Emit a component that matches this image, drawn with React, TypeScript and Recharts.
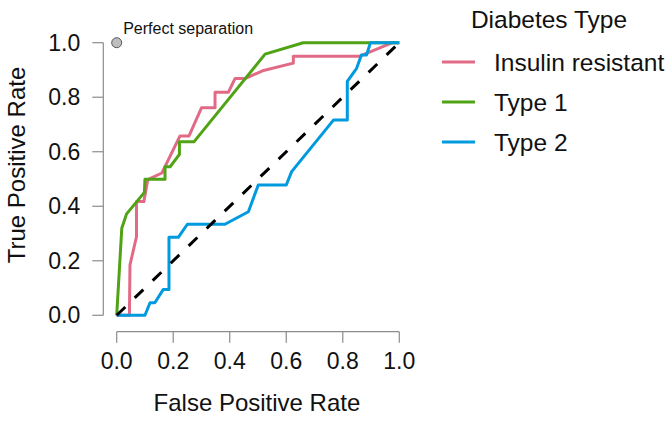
import React from 'react';
import { LineChart, Line, XAxis, YAxis, ReferenceLine, ReferenceDot, Legend } from 'recharts';

const FONT = '"Liberation Sans", Arial, Helvetica, sans-serif';
const AXIS_GREY = '#8c8c8c';

const xTicks = [0, 0.2, 0.4, 0.6, 0.8, 1.0];
const yTicks = [0, 0.2, 0.4, 0.6, 0.8, 1.0];

const seriesNames = ['Insulin resistant', 'Type 1', 'Type 2'];
const seriesColors = ['#E16A86', '#50A315', '#009ADE'];

// ROC points (false positive rate, true positive rate)
const insulinFpr = [0, 0.045, 0.047, 0.070, 0.070, 0.096, 0.110, 0.160, 0.224, 0.256, 0.300, 0.348, 0.348, 0.395, 0.419, 0.456, 0.516, 0.625, 0.625, 0.858, 0.976, 1.0];
const insulinTpr = [0, 0, 0.185, 0.288, 0.417, 0.417, 0.498, 0.522, 0.658, 0.658, 0.761, 0.761, 0.818, 0.818, 0.869, 0.869, 0.897, 0.925, 0.950, 0.950, 1.0, 1.0];

const type1Fpr = [0, 0.018, 0.035, 0.071, 0.098, 0.100, 0.171, 0.171, 0.189, 0.222, 0.222, 0.274, 0.525, 0.660, 1.0];
const type1Tpr = [0, 0.319, 0.372, 0.417, 0.451, 0.499, 0.499, 0.545, 0.545, 0.590, 0.637, 0.637, 0.958, 1.0, 1.0];

const type2Fpr = [0, 0.100, 0.118, 0.135, 0.165, 0.185, 0.185, 0.218, 0.250, 0.383, 0.466, 0.501, 0.600, 0.619, 0.767, 0.816, 0.816, 0.849, 0.866, 0.884, 0.898, 1.0];
const type2Tpr = [0, 0, 0.046, 0.046, 0.095, 0.095, 0.286, 0.286, 0.334, 0.334, 0.380, 0.478, 0.478, 0.527, 0.716, 0.716, 0.858, 0.906, 0.955, 0.955, 1.0, 1.0];

const chanceFpr = [0, 1];
const chanceTpr = [0, 1];

const toPoints = (fpr: number[], tpr: number[]) => fpr.map((x, i) => ({ x, y: tpr[i] }));

const seriesData = [
  toPoints(insulinFpr, insulinTpr),
  toPoints(type1Fpr, type1Tpr),
  toPoints(type2Fpr, type2Tpr),
];
const chanceData = toPoints(chanceFpr, chanceTpr);

const X_DOMAIN: [number, number] = [-0.0474, 1.04];
const Y_DOMAIN: [number, number] = [-0.0602, 1.04];

const LegendBox = ({ payload }: any) => {
  const items = (payload || []).filter((p: any) => seriesNames.includes(p.value));
  return (
    <svg width={239} height={160} style={{ overflow: 'visible', fontFamily: FONT }}>
      <text x={119} y={28} textAnchor="middle" fontSize={24.5} fill="#111">Diabetes Type</text>
      {items.map((p: any, i: number) => (
        <g key={p.value}>
          <line x1={12} x2={45} y1={62 + 40 * i} y2={62 + 40 * i} stroke={p.color} strokeWidth={3} />
          <text x={64} y={71 + 40 * i} fontSize={24.5} fill="#111">{p.value}</text>
        </g>
      ))}
    </svg>
  );
};

const PerfectLabel = (props: any) => {
  const vb = props.viewBox || {};
  const right = (vb.x ?? 112) + (vb.width ?? 10);
  const top = vb.y ?? 38;
  return (
    <text x={right + 1.5} y={top - 4} fontSize={16} fill="#111" fontFamily={FONT}>
      Perfect separation
    </text>
  );
};

const YTitle = () => (
  <text x={25} y={165} transform="rotate(-90 25 165)" textAnchor="middle" fontSize={24} fill="#111" fontFamily={FONT}>
    True Positive Rate
  </text>
);

export default function App() {
  return (
    <div style={{ position: 'absolute', left: 0, top: 0, width: 669, height: 424, background: '#fff' }}>
      <LineChart width={669} height={424} margin={{ top: 31.8, right: 258.4, bottom: 0, left: 0 }}>
        <XAxis
          type="number"
          dataKey="x"
          domain={X_DOMAIN}
          ticks={xTicks}
          allowDataOverflow
          tickFormatter={(v: number) => v.toFixed(1)}
          axisLine={false}
          tickLine={{ stroke: AXIS_GREY, strokeWidth: 1.2 }}
          tickSize={11}
          tickMargin={10}
          tick={{ fill: '#111', fontSize: 23, fontFamily: FONT }}
          height={92.3}
          label={{ value: 'False Positive Rate', position: 'insideBottom', offset: 13, fill: '#111', fontSize: 24, fontFamily: FONT }}
        />
        <YAxis
          type="number"
          dataKey="y"
          domain={Y_DOMAIN}
          ticks={yTicks}
          allowDataOverflow
          tickFormatter={(v: number) => v.toFixed(1)}
          axisLine={false}
          tickLine={{ stroke: AXIS_GREY, strokeWidth: 1.2 }}
          tickSize={11}
          tickMargin={12}
          tick={{ fill: '#111', fontSize: 23, fontFamily: FONT }}
          width={103.3}
          label={YTitle}
        />
        <ReferenceLine
          segment={[{ x: 0, y: Y_DOMAIN[0] }, { x: 1, y: Y_DOMAIN[0] }]}
          stroke={AXIS_GREY}
          strokeWidth={1.2}
          ifOverflow="visible"
        />
        <ReferenceLine
          segment={[{ x: X_DOMAIN[0], y: 0 }, { x: X_DOMAIN[0], y: 1 }]}
          stroke={AXIS_GREY}
          strokeWidth={1.2}
          ifOverflow="visible"
        />
        {seriesData.map((d, i) => (
          <Line
            key={seriesNames[i]}
            data={d}
            dataKey="y"
            name={seriesNames[i]}
            type="linear"
            stroke={seriesColors[i]}
            strokeWidth={3}
            strokeLinejoin="round"
            dot={false}
            activeDot={false}
            isAnimationActive={false}
          />
        ))}
        <Line
          data={chanceData}
          dataKey="y"
          name="chance"
          legendType="none"
          type="linear"
          stroke="#000"
          strokeWidth={3}
          strokeDasharray="12 13"
          dot={false}
          activeDot={false}
          isAnimationActive={false}
        />
        <ReferenceDot x={0} y={1} r={5} fill="#bebebe" stroke="#555" strokeWidth={1} ifOverflow="visible" label={PerfectLabel} />
        <Legend
          layout="horizontal"
          verticalAlign="middle"
          align="center"
          wrapperStyle={{ left: 430, top: 0, width: 239, height: 160 }}
          content={LegendBox}
        />
      </LineChart>
    </div>
  );
}
